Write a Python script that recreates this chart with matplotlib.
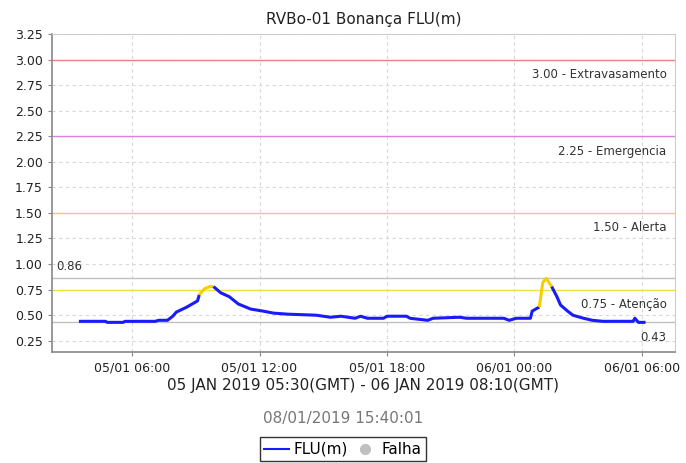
import pandas as pd
import numpy as np
import matplotlib
matplotlib.use("Agg")
import matplotlib.pyplot as plt
import matplotlib.dates as mdates
from matplotlib.lines import Line2D

# (local time, GMT-2)
times = ["2019-01-05 03:30", "2019-01-05 04:45", "2019-01-05 04:50", "2019-01-05 05:35",
         "2019-01-05 05:40", "2019-01-05 07:05", "2019-01-05 07:15", "2019-01-05 07:40",
         "2019-01-05 07:55", "2019-01-05 08:05", "2019-01-05 08:35", "2019-01-05 09:05",
         "2019-01-05 09:10", "2019-01-05 09:25", "2019-01-05 09:40", "2019-01-05 09:50",
         "2019-01-05 10:10", "2019-01-05 10:35", "2019-01-05 11:00", "2019-01-05 11:35",
         "2019-01-05 12:10", "2019-01-05 12:40", "2019-01-05 13:20", "2019-01-05 14:40",
         "2019-01-05 15:20", "2019-01-05 15:50", "2019-01-05 16:30", "2019-01-05 16:45",
         "2019-01-05 17:05", "2019-01-05 17:50", "2019-01-05 18:00", "2019-01-05 18:55",
         "2019-01-05 19:05", "2019-01-05 19:55", "2019-01-05 20:10", "2019-01-05 21:25",
         "2019-01-05 21:45", "2019-01-05 23:30", "2019-01-05 23:45", "2019-01-06 00:05",
         "2019-01-06 00:45", "2019-01-06 00:50", "2019-01-06 01:10", "2019-01-06 01:20",
         "2019-01-06 01:30", "2019-01-06 01:45", "2019-01-06 02:00", "2019-01-06 02:10",
         "2019-01-06 02:30", "2019-01-06 02:45", "2019-01-06 03:15", "2019-01-06 03:40",
         "2019-01-06 04:10", "2019-01-06 05:35", "2019-01-06 05:40", "2019-01-06 05:50",
         "2019-01-06 06:10"]
flu = [0.44, 0.44, 0.43, 0.43,
       0.44, 0.44, 0.45, 0.45,
       0.49, 0.53, 0.58, 0.64,
       0.70, 0.76, 0.78, 0.78,
       0.72, 0.68, 0.61, 0.56,
       0.54, 0.52, 0.51, 0.50,
       0.48, 0.49, 0.47, 0.49,
       0.47, 0.47, 0.49, 0.49,
       0.47, 0.45, 0.47, 0.48,
       0.47, 0.47, 0.45, 0.47,
       0.47, 0.54, 0.58, 0.82,
       0.86, 0.78, 0.68, 0.60,
       0.54, 0.50, 0.47, 0.45,
       0.44, 0.44, 0.47, 0.43,
       0.43]

limits = [3.00, 2.25, 1.50, 0.75]
limit_names = ["Extravasamento", "Emergencia", "Alerta", "Atenção"]
limit_colors = ["#f08080", "#e080e0", "#f5c38a", "#f0e040"]

yticks = [0.25, 0.50, 0.75, 1.00, 1.25, 1.50, 1.75, 2.00, 2.25, 2.50, 2.75, 3.00, 3.25]

t = pd.to_datetime(times)
v = np.array(flu)

fig = plt.figure(figsize=(6.86, 4.63), dpi=100)
ax = fig.add_axes([0.0758, 0.2397, 0.908, 0.687])

ax.set_xlim(pd.Timestamp("2019-01-05 02:14"), pd.Timestamp("2019-01-06 07:33"))
ax.set_ylim(0.14, 3.25)

ax.grid(True, color="#d8d8d8", linestyle=(0, (3, 3)), linewidth=0.8)
ax.set_axisbelow(True)

for lv, name, col in zip(limits, limit_names, limit_colors):
    ax.axhline(lv, color=col, linewidth=1.0, zorder=2)
    ax.annotate("%.2f - %s" % (lv, name), xy=(1, lv), xycoords=("axes fraction", "data"),
                xytext=(-6, -6), textcoords="offset points", ha="right", va="top",
                fontsize=8.5, color="#333333")

vmax = v.max()
vmin = v.min()
ax.axhline(vmax, color="#c0c0c0", linewidth=1.0, zorder=2)
ax.axhline(vmin, color="#c0c0c0", linewidth=1.0, zorder=2)
ax.annotate("%.2f" % vmax, xy=(0, vmax), xycoords=("axes fraction", "data"),
            xytext=(3, 4), textcoords="offset points", ha="left", va="bottom",
            fontsize=8.5, color="#333333")
ax.annotate("%.2f" % vmin, xy=(1, vmin), xycoords=("axes fraction", "data"),
            xytext=(-6, -6), textcoords="offset points", ha="right", va="top",
            fontsize=8.5, color="#333333")

# segment colour: yellow when it climbs above the attention level, else blue
seg_yellow = [v[i + 1] > 0.75 for i in range(len(v) - 1)]
start = 0
for i in range(1, len(seg_yellow) + 1):
    if i == len(seg_yellow) or seg_yellow[i] != seg_yellow[start]:
        col = "#f5d000" if seg_yellow[start] else "#1a1aff"
        ax.plot(t[start:i + 1], v[start:i + 1], color=col, linewidth=2.2,
                solid_capstyle="butt", solid_joinstyle="round", zorder=3)
        start = i

ax.set_yticks(yticks)
ax.set_yticklabels(["%.2f" % y for y in yticks])
ax.xaxis.set_major_locator(mdates.HourLocator(byhour=[0, 6, 12, 18]))
ax.xaxis.set_major_formatter(mdates.DateFormatter("%d/%m %H:%M"))
ax.tick_params(labelsize=9, labelcolor="#222222", length=3, color="#888888")

for s in ["left", "bottom"]:
    ax.spines[s].set_color("#888888")
    ax.spines[s].set_linewidth(1.2)
for s in ["top", "right"]:
    ax.spines[s].set_color("#cccccc")

ax.set_title("RVBo-01 Bonança FLU(m)", fontsize=11, color="#222222", pad=7)
ax.set_xlabel("05 JAN 2019 05:30(GMT) - 06 JAN 2019 08:10(GMT)", fontsize=11,
              color="#222222", labelpad=3)
fig.text(0.5, 0.097, "08/01/2019 15:40:01", ha="center", va="center", fontsize=11, color="#777777")

handles = [Line2D([], [], color="#1a1aff", linewidth=1.5),
           Line2D([], [], color="#c0c0c0", marker="o", linestyle="none", markersize=7)]
leg = fig.legend(handles, ["FLU(m)", "Falha"], loc="lower center", bbox_to_anchor=(0.5, 0.0),
                 ncol=2, frameon=True, fancybox=False, fontsize=11, handlelength=1.6,
                 handletextpad=0.3, columnspacing=0.3, borderpad=0.3, borderaxespad=0.1)
leg.get_frame().set_edgecolor("black")
leg.get_frame().set_linewidth(1.0)

fig.savefig("out.png", dpi=100)
